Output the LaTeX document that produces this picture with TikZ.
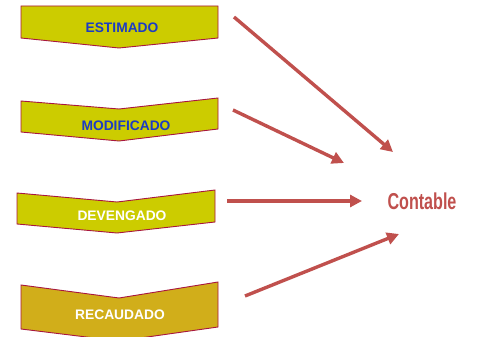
\documentclass[tikz,border=0pt]{standalone}
\usepackage{fontspec}
\setmainfont{Liberation Sans}
\usetikzlibrary{arrows.meta}
\definecolor{boxfill}{HTML}{CCCC00}
\definecolor{boxfilldark}{HTML}{D1AE1A}
\definecolor{boxline}{HTML}{A8163F}
\definecolor{txtblue}{HTML}{1C3CC4}
\definecolor{arrowred}{HTML}{C0504D}
\tikzset{
  chevron/.style={fill=boxfill, draw=boxline, line width=0.9pt, line join=miter},
  boxtext/.style={font=\fontsize{13.8}{14}\selectfont\bfseries, inner sep=0pt},
  redarrow/.style={draw=arrowred, line width=3.4pt, -{Triangle[length=12pt,width=12pt]}}
}
\begin{document}
\begin{tikzpicture}[x=1pt,y=-1pt]
\useasboundingbox (0,0) rectangle (477,337);
% chevrons
\draw[chevron] (21,6) -- (218,6) -- (218,38) -- (119,48) -- (21,38) -- cycle;
\draw[chevron] (21,101) -- (119,109) -- (218,98) -- (218,129) -- (119,141) -- (21,132) -- cycle;
\draw[chevron] (17,193) -- (117,202) -- (215,190) -- (215,222) -- (117,233) -- (17,224) -- cycle;
\draw[chevron, fill=boxfilldark] (21,285) -- (119,298) -- (218,282) -- (218,327) -- (119,341) -- (21,329) -- cycle;
% labels
\node[boxtext, text=txtblue] (est) at (122,28) {ESTIMADO};
\node[boxtext, text=txtblue] (mod) at (126,126) {MODIFICADO};
\node[boxtext, text=white] (dev) at (122,216) {DEVENGADO};
\node[boxtext, text=white] (rec) at (120,315) {RECAUDADO};
% target
\node[inner sep=0pt, text=arrowred, font=\fontsize{23}{24}\selectfont\bfseries] (cont) at (422,201) {\scalebox{0.7}[1]{Contable}};
% arrow ends
\coordinate (s1) at (234,17);  \coordinate (e1) at (393,152);
\coordinate (s2) at (233,110); \coordinate (e2) at (344,163);
\coordinate (s3) at (227,201); \coordinate (e3) at (362,201);
\coordinate (s4) at (245,296); \coordinate (e4) at (399,234);
\draw[redarrow] (s1) -- (e1);
\draw[redarrow] (s2) -- (e2);
\draw[redarrow] (s3) -- (e3);
\draw[redarrow] (s4) -- (e4);
\end{tikzpicture}
\end{document}
